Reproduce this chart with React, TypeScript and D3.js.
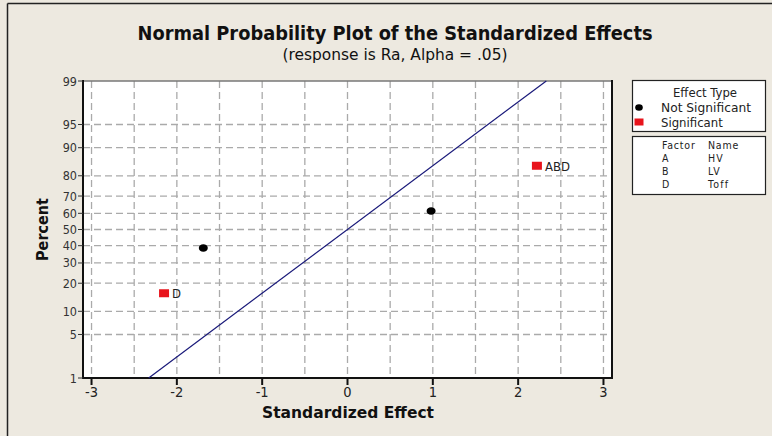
import React from "react";
import * as d3 from "d3";

const effectLabels = ["D", "", "", "ABD"];
const effects = [-2.15, -1.69, 0.98, 2.22];
const percents = [15.9, 38.6, 61.4, 84.1];
const significant = [true, false, false, true];
const fitEffects = [-2.33, 2.33];
const fitPercents = [1, 99];
const xTicks = [-3, -2, -1, 0, 1, 2, 3];
const xGrid = [-3, -2.5, -2, -1.5, -1, -0.5, 0, 0.5, 1, 1.5, 2, 2.5, 3];
const yTicks = [1, 5, 10, 20, 30, 40, 50, 60, 70, 80, 90, 95, 99];
const factorCodes = ["A", "B", "D"];
const factorNames = ["HV", "LV", "Toff"];

const W = 772, H = 436;
const L = 83, R = 612, T = 81, B = 378;
const FONT = "'DejaVu Sans Condensed', 'DejaVu Sans', sans-serif";

function probit(p: number) {
  const pp = p / 100;
  const a = [-3.969683028665376e1, 2.209460984245205e2, -2.759285104469687e2, 1.38357751867269e2, -3.066479806614716e1, 2.506628277459239];
  const b = [-5.447609879822406e1, 1.615858368580409e2, -1.556989798598866e2, 6.680131188771972e1, -1.328068155288572e1];
  const c = [-7.784894002430293e-3, -3.223964580411365e-1, -2.400758277161838, -2.549732539343734, 4.374664141464968, 2.938163982698783];
  const dd = [7.784695709041462e-3, 3.224671290700398e-1, 2.445134137142996, 3.754408661907416];
  const plow = 0.02425, phigh = 1 - plow;
  let qq, r;
  if (pp < plow) {
    qq = Math.sqrt(-2 * Math.log(pp));
    return (((((c[0] * qq + c[1]) * qq + c[2]) * qq + c[3]) * qq + c[4]) * qq + c[5]) / ((((dd[0] * qq + dd[1]) * qq + dd[2]) * qq + dd[3]) * qq + 1);
  } else if (pp <= phigh) {
    qq = pp - 0.5; r = qq * qq;
    return (((((a[0] * r + a[1]) * r + a[2]) * r + a[3]) * r + a[4]) * r + a[5]) * qq / (((((b[0] * r + b[1]) * r + b[2]) * r + b[3]) * r + b[4]) * r + 1);
  } else {
    qq = Math.sqrt(-2 * Math.log(1 - pp));
    return -(((((c[0] * qq + c[1]) * qq + c[2]) * qq + c[3]) * qq + c[4]) * qq + c[5]) / ((((dd[0] * qq + dd[1]) * qq + dd[2]) * qq + dd[3]) * qq + 1);
  }
}

export default function App() {
  const x = d3.scaleLinear().domain([-3.1, 3.1]).range([L, R]);
  const zy = d3.scaleLinear().domain([probit(1), probit(99)]).range([B, T]);
  const y = (p: number) => zy(probit(p));

  const line = d3.line<number>().x((d, i) => x(fitEffects[i])).y((d) => y(d));

  return (
    <div style={{ position: "absolute", left: 0, top: 0 }}>
      <svg width={W} height={H} style={{ display: "block" }} fontFamily={FONT}>
        <rect x={0} y={0} width={W} height={H} fill="#ede9e0" />
        <line x1={7.5} y1={3.5} x2={W} y2={3.5} stroke="#222" strokeWidth={1.5} />
        <line x1={7.5} y1={3.5} x2={7.5} y2={H} stroke="#222" strokeWidth={1.5} />
        <text x={395} y={40} textAnchor="middle" fontSize={19} fontWeight="bold" fill="#111" textLength={515} lengthAdjust="spacingAndGlyphs">
          Normal Probability Plot of the Standardized Effects
        </text>
        <text x={395} y={60} textAnchor="middle" fontSize={15.5} fill="#111" textLength={225} lengthAdjust="spacingAndGlyphs">
          (response is Ra, Alpha = .05)
        </text>
        <rect x={L} y={T} width={R - L} height={B - T} fill="#fff" />
        {xGrid.map((g) => (
          <line key={"xg" + g} x1={x(g)} x2={x(g)} y1={T} y2={B} stroke="#aaa" strokeWidth={1.3} strokeDasharray="7,4" />
        ))}
        {yTicks.slice(1, -1).map((p) => (
          <line key={"yg" + p} x1={L} x2={R} y1={y(p)} y2={y(p)} stroke="#aaa" strokeWidth={1.3} strokeDasharray="7,4" />
        ))}
        <line x1={L} x2={R} y1={T} y2={T} stroke="#777" strokeWidth={1.5} />
        <line x1={L} x2={L} y1={T - 1} y2={B + 1} stroke="#111" strokeWidth={2} />
        <line x1={L - 1} x2={R + 1} y1={B} y2={B} stroke="#111" strokeWidth={2} />
        <line x1={R} x2={R} y1={T - 1} y2={B + 1} stroke="#111" strokeWidth={2} />
        {yTicks.map((p) => (
          <g key={"yt" + p}>
            <line x1={L - 5} x2={L} y1={y(p)} y2={y(p)} stroke="#333" strokeWidth={1} />
            <text x={L - 6} y={y(p) + 4.5} textAnchor="end" fontSize={12.5} fill="#333">{p}</text>
          </g>
        ))}
        {xTicks.map((t) => (
          <g key={"xt" + t}>
            <line x1={x(t)} x2={x(t)} y1={B} y2={B + 7} stroke="#111" strokeWidth={2} />
            <text x={x(t)} y={B + 19} textAnchor="middle" fontSize={14.5} fill="#222">{t < 0 ? "-" + Math.abs(t) : t}</text>
          </g>
        ))}
        <text x={348} y={418} textAnchor="middle" fontSize={16.5} fontWeight="bold" fill="#111" textLength={172} lengthAdjust="spacingAndGlyphs">Standardized Effect</text>
        <text transform={`translate(48,${(T + B) / 2}) rotate(-90)`} textAnchor="middle" fontSize={16} fontWeight="bold" fill="#111">Percent</text>
        <path d={line(fitPercents) || ""} fill="none" stroke="#1a1a7a" strokeWidth={1.2} />
        {effects.map((e, i) => (
          <g key={"pt" + i}>
            {significant[i] ? (
              <rect x={x(e) - 5} y={y(percents[i]) - 4} width={10} height={8} fill="#e8141c" />
            ) : (
              <ellipse cx={x(e)} cy={y(percents[i])} rx={4.5} ry={3.8} fill="#000" />
            )}
            {effectLabels[i] && (
              <text x={x(e) + 8} y={y(percents[i]) + 5} fontSize={13} fill="#222">{effectLabels[i]}</text>
            )}
          </g>
        ))}
        <rect x={632.5} y={80.5} width={133} height={51} fill="#fff" stroke="#222" strokeWidth={1.2} />
        <text x={705} y={97} textAnchor="middle" fontSize={13} fill="#222">Effect Type</text>
        <ellipse cx={639} cy={107.5} rx={3.8} ry={3.2} fill="#000" />
        <text x={661} y={112} fontSize={13} fill="#222" textLength={90} lengthAdjust="spacingAndGlyphs">Not Significant</text>
        <rect x={634.5} y={118.5} width={9} height={7} fill="#e8141c" />
        <text x={661} y={127} fontSize={13} fill="#222">Significant</text>
        <rect x={632.5} y={136.5} width={133} height={58} fill="#fff" stroke="#222" strokeWidth={1.2} />
        <text x={662} y={149} fontSize={10.5} fill="#222" letterSpacing={0.8}>Factor</text>
        <text x={708} y={149} fontSize={10.5} fill="#222" letterSpacing={0.8}>Name</text>
        {factorCodes.map((f, i) => (
          <g key={"f" + f}>
            <text x={662} y={162 + i * 13} fontSize={10.5} fill="#222">{f}</text>
            <text x={708} y={162 + i * 13} fontSize={10.5} fill="#222" letterSpacing={1.2}>{factorNames[i]}</text>
          </g>
        ))}
      </svg>
    </div>
  );
}
